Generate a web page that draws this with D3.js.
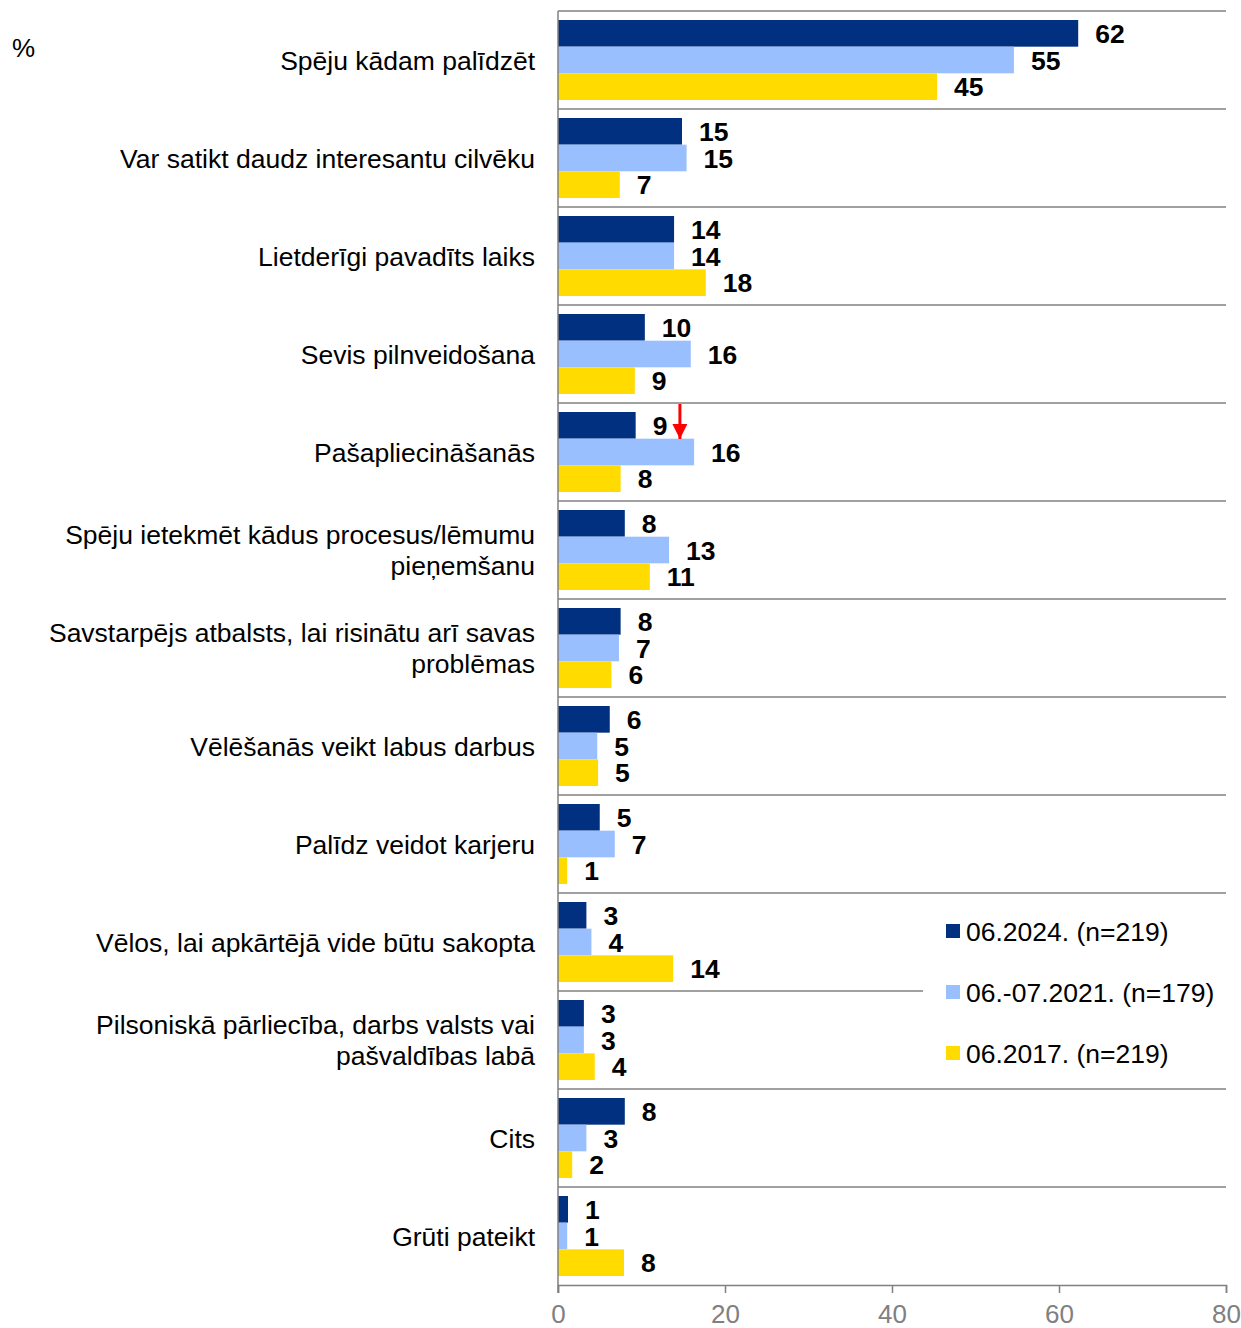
<!DOCTYPE html>
<html>
<head>
<meta charset="utf-8">
<script src="https://cdn.jsdelivr.net/npm/d3@7"></script>
<style>
  body { margin: 0; background: #fff; }
  svg text { font-family: "Liberation Sans", Arial, sans-serif; }
</style>
</head>
<body>
<div id="chart"></div>
<script>
// categories (multi-line ones split with |)
var categories = [
  "Spēju kādam palīdzēt",
  "Var satikt daudz interesantu cilvēku",
  "Lietderīgi pavadīts laiks",
  "Sevis pilnveidošana",
  "Pašapliecināšanās",
  "Spēju ietekmēt kādus procesus/lēmumu|pieņemšanu",
  "Savstarpējs atbalsts, lai risinātu arī savas|problēmas",
  "Vēlēšanās veikt labus darbus",
  "Palīdz veidot karjeru",
  "Vēlos, lai apkārtējā vide būtu sakopta",
  "Pilsoniskā pārliecība, darbs valsts vai|pašvaldības labā",
  "Cits",
  "Grūti pateikt"
];

var seriesNames = ["06.2024. (n=219)", "06.-07.2021. (n=179)", "06.2017. (n=219)"];
var seriesColors = ["#00307f", "#99bfff", "#ffdb00"];

var values2024 = [62.3, 14.85, 13.9, 10.4, 9.3, 8.0, 7.5, 6.2, 5.0, 3.4, 3.1, 8.0, 1.2];
var values2021 = [54.6, 15.4, 13.9, 15.9, 16.3, 13.3, 7.3, 4.7, 6.8, 4.0, 3.1, 3.4, 1.1];
var values2017 = [45.4, 7.4, 17.7, 9.2, 7.5, 11.0, 6.4, 4.8, 1.1, 13.8, 4.4, 1.7, 7.9];

var xTicks = [0, 20, 40, 60, 80];

var allSeries = [values2024, values2021, values2017];

var width = 1241, height = 1328;
var margin = { top: 11, right: 15, bottom: 43, left: 558 };
var w = width - margin.left - margin.right,
    h = height - margin.top - margin.bottom;

var svg = d3.select("#chart").append("svg")
  .attr("width", width)
  .attr("height", height);

var g = svg.append("g")
  .attr("transform", "translate(" + margin.left + "," + margin.top + ")");

var x = d3.scaleLinear().domain([0, 80]).range([0, w]);

var y = d3.scaleBand()
  .domain(categories)
  .range([0, h]);

var y1 = d3.scaleBand()
  .domain([0, 1, 2])
  .range([9, y.bandwidth() - 9]);

// separator lines between categories
g.selectAll("line.sep")
  .data(categories)
  .enter()
  .append("line")
  .attr("class", "sep")
  .attr("x1", 0)
  .attr("x2", w)
  .attr("y1", function (d) { return y(d); })
  .attr("y2", function (d) { return y(d); })
  .attr("stroke", "#a0a0a0")
  .attr("stroke-width", 2);

// bars
var rows = [];
categories.forEach(function (c, i) {
  allSeries.forEach(function (s, j) {
    rows.push({ cat: c, s: j, v: s[i] });
  });
});

g.selectAll("rect.bar")
  .data(rows)
  .enter()
  .append("rect")
  .attr("class", "bar")
  .attr("x", 0)
  .attr("y", function (d) { return y(d.cat) + y1(d.s); })
  .attr("width", function (d) { return x(d.v); })
  .attr("height", y1.bandwidth())
  .attr("fill", function (d) { return seriesColors[d.s]; });

// value labels
g.selectAll("text.val")
  .data(rows)
  .enter()
  .append("text")
  .attr("class", "val")
  .attr("x", function (d) { return x(d.v) + 17; })
  .attr("y", function (d) { return y(d.cat) + y1(d.s) + y1.bandwidth() / 2; })
  .attr("dy", "0.36em")
  .style("font-size", "26.5px")
  .style("font-weight", "bold")
  .attr("fill", "#000")
  .text(function (d) { return Math.round(d.v); });

// x axis
var xAxis = g.append("g")
  .attr("transform", "translate(0," + h + ")")
  .call(d3.axisBottom(x).tickValues(xTicks).tickSize(8).tickPadding(12));
xAxis.select(".domain").attr("stroke", "#808080").attr("stroke-width", 1.5);
xAxis.selectAll(".tick line").attr("stroke", "#808080").attr("stroke-width", 1.5);
xAxis.selectAll(".tick text")
  .attr("fill", "#808080")
  .style("font-size", "26px")
  .style("font-family", "'Liberation Sans Narrow', 'Liberation Sans', Arial, sans-serif");

// left axis line
g.append("line")
  .attr("x1", 0).attr("x2", 0)
  .attr("y1", 0).attr("y2", h + 8)
  .attr("stroke", "#808080")
  .attr("stroke-width", 1.5);

// category labels
var catLabels = g.selectAll("text.cat")
  .data(categories)
  .enter()
  .append("text")
  .attr("class", "cat")
  .attr("text-anchor", "end")
  .style("font-size", "26.5px")
  .attr("fill", "#000");

catLabels.each(function (d) {
  var lines = d.split("|");
  var t = d3.select(this);
  var cy = y(d) + y.bandwidth() / 2;
  lines.forEach(function (ln, k) {
    t.append("tspan")
      .attr("x", -23)
      .attr("y", cy + (k - (lines.length - 1) / 2) * 31)
      .attr("dy", "0.36em")
      .text(ln);
  });
});

// "%" label
svg.append("text")
  .attr("x", 12)
  .attr("y", 48)
  .attr("dy", "0.36em")
  .style("font-size", "26px")
  .text("%");

// red arrow annotation
var arrowX = x(14.6);
var arrowTop = y(categories[4]);
svg.append("defs").append("marker")
  .attr("id", "arrowhead")
  .attr("viewBox", "0 0 10 10")
  .attr("refX", 10).attr("refY", 5)
  .attr("markerWidth", 5).attr("markerHeight", 5)
  .attr("markerUnits", "strokeWidth")
  .attr("orient", "auto")
  .append("path")
  .attr("d", "M0,0 L10,5 L0,10 z")
  .attr("fill", "#ff0000");
g.append("line")
  .attr("x1", arrowX).attr("x2", arrowX)
  .attr("y1", arrowTop + 1).attr("y2", arrowTop + 36)
  .attr("stroke", "#ff0000")
  .attr("stroke-width", 3)
  .attr("marker-end", "url(#arrowhead)");

// legend
var legend = svg.append("g");
legend.append("rect")
  .attr("x", 923).attr("y", 900)
  .attr("width", 318).attr("height", 180)
  .attr("fill", "#fff");

var li = legend.selectAll("g.li")
  .data(seriesNames)
  .enter()
  .append("g")
  .attr("transform", function (d, i) { return "translate(946," + (931 + i * 61) + ")"; });
li.append("rect")
  .attr("x", 0).attr("y", -7)
  .attr("width", 14).attr("height", 14)
  .attr("fill", function (d, i) { return seriesColors[i]; });
li.append("text")
  .attr("x", 20)
  .attr("dy", "0.36em")
  .style("font-size", "26.5px")
  .text(function (d) { return d; });
</script>
</body>
</html>
